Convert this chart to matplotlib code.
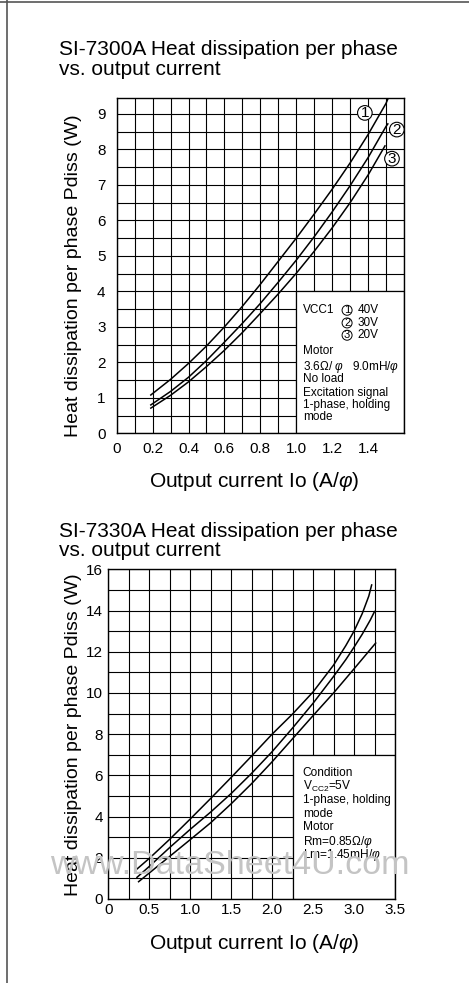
import matplotlib
matplotlib.use("Agg")
import matplotlib.pyplot as plt
from matplotlib.patches import Rectangle
from matplotlib.lines import Line2D
import numpy as np

plt.rcParams['font.family'] = ['Liberation Sans', 'DejaVu Sans', 'Noto Sans CJK JP']
plt.rcParams['mathtext.fontset'] = 'custom'
plt.rcParams['mathtext.rm'] = 'Liberation Sans'
plt.rcParams['mathtext.it'] = 'Liberation Sans:italic'

# ---------------- data: SI-7300A ----------------
top_title = ["SI-7300A Heat dissipation per phase", "vs. output current"]
top_xticks = [0, 0.2, 0.4, 0.6, 0.8, 1.0, 1.2, 1.4]
top_xticklabels = ["0", "0.2", "0.4", "0.6", "0.8", "1.0", "1.2", "1.4"]
top_yticks = [0, 1, 2, 3, 4, 5, 6, 7, 8, 9]
top_c1_x = [0.19, 0.3, 0.4, 0.5, 0.6, 0.7, 0.8, 0.9, 1.0, 1.1, 1.2, 1.3, 1.4, 1.5, 1.51]
top_c1_y = [1.08, 1.52, 1.97, 2.46, 3.00, 3.58, 4.20, 4.85, 5.50, 6.18, 6.88, 7.62, 8.42, 9.30, 9.42]
top_c2_x = [0.19, 0.3, 0.4, 0.5, 0.6, 0.7, 0.8, 0.9, 1.0, 1.1, 1.2, 1.3, 1.4, 1.5, 1.51]
top_c2_y = [0.80, 1.18, 1.58, 2.05, 2.57, 3.10, 3.66, 4.26, 4.88, 5.54, 6.24, 6.98, 7.77, 8.65, 8.72]
top_c3_x = [0.19, 0.3, 0.4, 0.5, 0.6, 0.7, 0.8, 0.9, 1.0, 1.1, 1.2, 1.3, 1.4, 1.494]
top_c3_y = [0.71, 1.07, 1.45, 1.88, 2.34, 2.84, 3.38, 3.93, 4.51, 5.13, 5.79, 6.50, 7.28, 8.10]
top_box_lines = ["Motor", r"3.6Ω/ $\varphi$   9.0mH/$\varphi$", "No load",
                 "Excitation signal", "1-phase, holding", "mode"]
vcc1_digits = ["1", "2", "3"]
vcc1_volts = ["40V", "30V", "20V"]

# ---------------- data: SI-7330A ----------------
bot_title = ["SI-7330A Heat dissipation per phase", "vs. output current"]
bot_xticks = [0, 0.5, 1.0, 1.5, 2.0, 2.5, 3.0, 3.5]
bot_xticklabels = ["0", "0.5", "1.0", "1.5", "2.0", "2.5", "3.0", "3.5"]
bot_yticks = [0, 2, 4, 6, 8, 10, 12, 14, 16]
bot_c1_x = [0.34, 0.5, 0.75, 1.0, 1.25, 1.5, 1.75, 2.0, 2.25, 2.5, 2.75, 2.9, 3.0, 3.1, 3.18, 3.215]
bot_c1_y = [1.42, 1.97, 2.90, 3.88, 4.88, 5.90, 6.94, 8.00, 8.98, 10.05, 11.35, 12.30, 13.00, 13.85, 14.70, 15.24]
bot_c2_x = [0.35, 0.5, 0.75, 1.0, 1.25, 1.5, 1.75, 2.0, 2.25, 2.5, 2.75, 2.9, 3.0, 3.1, 3.2, 3.25]
bot_c2_y = [1.05, 1.58, 2.50, 3.38, 4.22, 5.12, 6.10, 7.15, 8.30, 9.50, 10.80, 11.62, 12.22, 12.85, 13.55, 13.95]
bot_c3_x = [0.37, 0.5, 0.75, 1.0, 1.25, 1.5, 1.75, 2.0, 2.25, 2.5, 2.75, 3.0, 3.264]
bot_c3_y = [0.84, 1.26, 2.07, 2.88, 3.70, 4.62, 5.60, 6.66, 7.78, 8.90, 10.00, 11.17, 12.42]
bot_box_lines = ["Condition", r"V$_{\mathregular{CC2}}$=5V", "1-phase, holding", "mode",
                 "Motor", r"Rm=0.85Ω/$\varphi$", r"Lm=1.45mH/$\varphi$"]

ylabel = "Heat dissipation per phase Pdiss (W)"
xlabel = r"Output current Io (A/$\varphi$)"
watermark = "www.DataSheet4U.com"

W, H = 469, 983
fig = plt.figure(figsize=(W / 100, H / 100), dpi=100)

def fx(px):
    return px / W

def fy(py):
    return 1 - py / H

# frame lines
fig.add_artist(Line2D([0, 1], [fy(2), fy(2)], color="#555555", lw=1.2))
fig.add_artist(Line2D([fx(7), fx(7)], [0, 1], color="#555555", lw=1.2))

GRID_KW = dict(color="black", lw=0.8)
TICK_FS = 11

def setup(ax, xlim, ylim, xt, xtl, yt, xminor, yminor, xpad, ypad):
    ax.set_xlim(*xlim)
    ax.set_ylim(*ylim)
    ax.set_xticks(xt)
    ax.set_xticklabels(xtl)
    ax.set_yticks(yt)
    ax.set_xticks(xminor, minor=True)
    ax.set_yticks(yminor, minor=True)
    ax.set_axisbelow(True)
    ax.grid(True, which="both", **GRID_KW)
    ax.tick_params(which="both", length=0, labelsize=TICK_FS)
    ax.tick_params(axis="x", pad=xpad)
    ax.tick_params(axis="y", pad=ypad)
    for s in ax.spines.values():
        s.set_linewidth(1.0)
        s.set_color("black")

# ---------------- top chart ----------------
ax1 = fig.add_axes([fx(116.7), fy(433.3), fx(404 - 116.7), (433.3 - 98) / H])
setup(ax1, (0, 1.6), (0, 9.45), top_xticks, top_xticklabels, top_yticks,
      np.arange(0, 1.61, 0.1), np.arange(0, 9.45, 0.5), 6, 8)
for xs, ys in [(top_c1_x, top_c1_y), (top_c2_x, top_c2_y), (top_c3_x, top_c3_y)]:
    ax1.plot(xs, ys, color="black", lw=1.1, zorder=3)
ax1.add_patch(Rectangle((1.0, 0), 0.6, 4, facecolor="white", edgecolor="black",
                        lw=0.9, zorder=2))
mark_pos = [(1.382, 9.03), (1.56, 8.56), (1.533, 7.74)]
for d, (mx, my) in zip(vcc1_digits, mark_pos):
    t = ax1.text(mx, my, d, fontsize=11, ha="center", va="center", zorder=5,
                 bbox=dict(boxstyle="circle,pad=0.02", fc="white", ec="black", lw=0.8))
    t.set_clip_on(False)

def ty(py):
    return (433.3 - py) / 35.56

tx = 1.039
ax1.text(tx, ty(310), "VCC1", fontsize=8.5, va="center", zorder=4)
for d, v, yy in zip(vcc1_digits, vcc1_volts, [310, 322.7, 335]):
    ax1.text(1.283, ty(yy), d, fontsize=8, ha="center", va="center", zorder=5,
             bbox=dict(boxstyle="circle,pad=0.0", fc="white", ec="black", lw=0.7))
    ax1.text(1.34, ty(yy), v, fontsize=8.5, va="center", zorder=4)
for lab, yy in zip(top_box_lines, [350.7, 366.7, 379.3, 392.7, 405, 417.3]):
    ax1.text(tx, ty(yy), lab, fontsize=8.5, va="center", zorder=4)

# ---------------- bottom chart ----------------
ax2 = fig.add_axes([fx(108.3), fy(899), fx(395 - 108.3), (899 - 569.3) / H])
setup(ax2, (0, 3.5), (0, 16), bot_xticks, bot_xticklabels, bot_yticks,
      np.arange(0, 3.51, 0.25), np.arange(0, 16.1, 1), 3, 4)
for xs, ys in [(bot_c1_x, bot_c1_y), (bot_c2_x, bot_c2_y), (bot_c3_x, bot_c3_y)]:
    ax2.plot(xs, ys, color="black", lw=1.1, zorder=3)
ax2.add_patch(Rectangle((2.25, 0), 1.25, 7, facecolor="white", edgecolor="black",
                        lw=0.9, zorder=2))
for lab, yy in zip(bot_box_lines, [772.7, 786, 800, 814, 826.7, 841.7, 855]):
    ax2.text((302.7 - 108.3) / 81.9, (899 - yy) / 20.6, lab, fontsize=8.6,
             va="center", zorder=4)

# ---------------- titles and labels ----------------
TFS = 15
fig.text(fx(59), fy(55), top_title[0], fontsize=TFS, va="baseline")
fig.text(fx(59), fy(75), top_title[1], fontsize=TFS, va="baseline")
fig.text(fx(59), fy(537), bot_title[0], fontsize=TFS, va="baseline")
fig.text(fx(59), fy(556), bot_title[1], fontsize=TFS, va="baseline")

fig.text(fx(73), fy(276), ylabel, fontsize=14, rotation=90, ha="center", va="center")
fig.text(fx(73), fy(735), ylabel, fontsize=14, rotation=90, ha="center", va="center")
fig.text(fx(254), fy(487), xlabel, fontsize=TFS, ha="center", va="baseline")
fig.text(fx(254), fy(949), xlabel, fontsize=TFS, ha="center", va="baseline")

# watermark
fig.text(fx(230), fy(874), watermark, fontsize=24.5, color="#c4c4c4",
         ha="center", va="baseline", zorder=10)

fig.savefig("out.png", dpi=100, facecolor="white")
